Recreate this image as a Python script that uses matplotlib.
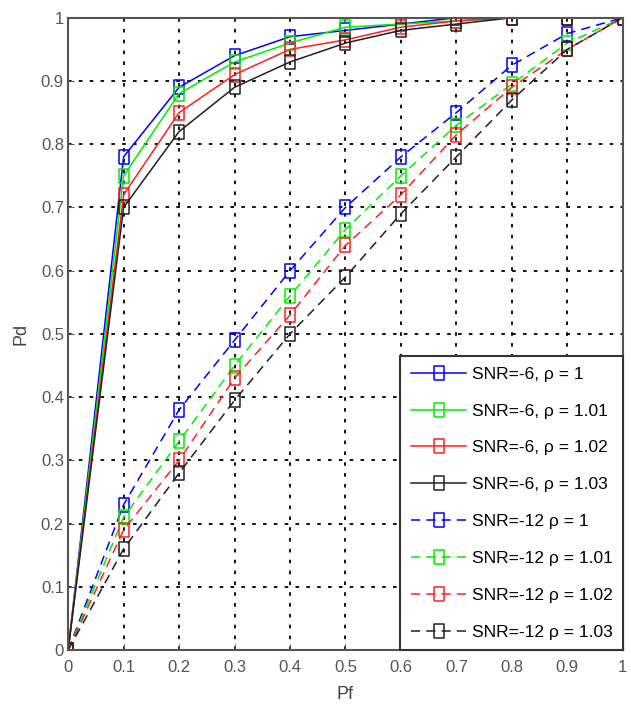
import numpy as np
import matplotlib.pyplot as plt

plt.rcParams['font.family'] = ['Liberation Sans', 'DejaVu Sans']

pf = [0, 0.1, 0.2, 0.3, 0.4, 0.5, 0.6, 0.7, 0.8, 0.9, 1.0]

# SNR = -6 dB (solid)
pd_6_100 = [0, 0.78, 0.89, 0.94, 0.97, 0.98, 0.99, 1.0, 1.0, 1.0, 1.0]
pd_6_101 = [0, 0.75, 0.88, 0.93, 0.96, 0.985, 0.99, 0.995, 1.0, 1.0, 1.0]
pd_6_102 = [0, 0.72, 0.85, 0.91, 0.95, 0.965, 0.985, 0.995, 1.0, 1.0, 1.0]
pd_6_103 = [0, 0.70, 0.82, 0.89, 0.93, 0.96, 0.98, 0.99, 1.0, 1.0, 1.0]

# SNR = -12 dB (dashed)
pd_12_100 = [0, 0.23, 0.38, 0.49, 0.60, 0.70, 0.78, 0.85, 0.925, 0.975, 1.0]
pd_12_101 = [0, 0.21, 0.33, 0.45, 0.56, 0.665, 0.75, 0.83, 0.895, 0.96, 1.0]
pd_12_102 = [0, 0.19, 0.30, 0.43, 0.53, 0.64, 0.72, 0.815, 0.89, 0.95, 1.0]
pd_12_103 = [0, 0.16, 0.28, 0.395, 0.50, 0.59, 0.69, 0.78, 0.87, 0.95, 1.0]

labels = [
    "SNR=-6, ρ = 1", "SNR=-6, ρ = 1.01", "SNR=-6, ρ = 1.02", "SNR=-6, ρ = 1.03",
    "SNR=-12 ρ = 1", "SNR=-12 ρ = 1.01", "SNR=-12 ρ = 1.02", "SNR=-12 ρ = 1.03",
]
tick_labels = ['0', '0.1', '0.2', '0.3', '0.4', '0.5', '0.6', '0.7', '0.8', '0.9', '1']
series = [pd_6_100, pd_6_101, pd_6_102, pd_6_103,
          pd_12_100, pd_12_101, pd_12_102, pd_12_103]
colors = ['#0000ff', '#00ee00', '#ff2020', '#202020'] * 2
styles = ['-'] * 4 + [(0, (6, 4))] * 4

# tall open rectangle, like the squashed MATLAB squares
rect = [(-0.7, -1), (0.7, -1), (0.7, 1), (-0.7, 1), (-0.7, -1)]

fig = plt.figure(figsize=(6.31, 7.09), dpi=100)
ax = fig.add_axes([0.108, 0.083, 0.879, 0.892])

for y, lab, c, ls in zip(series, labels, colors, styles):
    ax.plot(pf, y, color=c, linestyle=ls, linewidth=1.1, marker=rect,
            markersize=9.5, markerfacecolor='none', markeredgecolor=c,
            markeredgewidth=1.1, label=lab)

ax.set_xlim(0, 1)
ax.set_ylim(0, 1)
ax.set_xticks(np.arange(0, 1.01, 0.1))
ax.set_yticks(np.arange(0, 1.01, 0.1))
ax.set_xticklabels(tick_labels)
ax.set_yticklabels(tick_labels)
ax.tick_params(labelsize=12, colors='#555555', direction='in', length=4, pad=3)
ax.tick_params(axis='x', pad=7)
ax.grid(True, color='black', linestyle=(0, (2, 4)), linewidth=1.3)
for s in ax.spines.values():
    s.set_color('#555555')
    s.set_linewidth(1.5)

ax.set_xlabel('Pf', fontsize=13, color='#444444', labelpad=8)
ax.set_ylabel('Pd', fontsize=13, color='#444444', labelpad=8)

leg = ax.legend(loc='lower right', borderaxespad=0, fontsize=12.5,
                handlelength=3.2, labelspacing=1.25, handletextpad=0.3,
                borderpad=0.6, fancybox=False, framealpha=1)
leg.get_frame().set_edgecolor('#333333')
leg.get_frame().set_linewidth(1.5)

fig.savefig('out.png', dpi=100)
